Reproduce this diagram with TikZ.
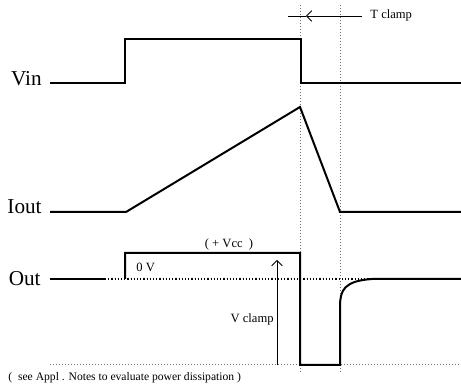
\documentclass[tikz,border=0pt]{standalone}
\usepackage{fontspec}
\setmainfont{Liberation Serif}
\usepackage{xcolor}
\usepackage{tikz}
\usetikzlibrary{arrows.meta,calc}
\definecolor{waveInk}{HTML}{000000}
\definecolor{guideGrey}{HTML}{707070}
\tikzset{
  signal/.style={
    line width=1pt,
    draw=waveInk,
    line join=miter
  },
  guide/.style={
    densely dotted,
    line width=0.5pt,
    draw=guideGrey
  },
  levelDots/.style={
    densely dotted,
    line width=0.6pt,
    draw=waveInk
  },
  measure/.style={
    -{Straight Barb[length=2.6pt,width=5.4pt]},
    line width=0.45pt,
    draw=waveInk
  },
  sigLabel/.style={
    anchor=base east,
    inner sep=0pt,
    font=\fontsize{10.6}{12}\selectfont
  },
  smallLabel/.style={
    inner sep=0pt,
    font=\fontsize{6.3}{7.5}\selectfont
  }
}

\begin{document}
\begin{tikzpicture}[x=0.5pt,y=-0.5pt]
  \useasboundingbox (0,0) rectangle (461,389);
  % timing guides
  \draw[guide] (300,5) -- (300,372);
  \draw[guide] (340,5) -- (340,372);
  \draw[guide] (50,365) -- (461,365);
  \draw[levelDots] (105,279) -- (461,279);
  % signal names
  \node[sigLabel] (vin) at (42,86) {Vin};
  \node[sigLabel] (iout) at (42,214) {Iout};
  \node[sigLabel] (out) at (41,286) {Out};
  % waveforms
  \draw[signal] (50,83) -- (125,83) -- (125,39) -- (301,39) -- (301,83) -- (461,83);
  \draw[signal] (50,212) -- (126,212) -- (300,107) -- (340,212) -- (461,212);
  \draw[signal] (50,279) -- (105,279);
  \draw[signal] (125,279) -- (125,253) -- (300,253) -- (300,365) -- (340,365) -- (340,307)
    .. controls (340,290) and (344,281) .. (372,279) -- (461,279);
  % T clamp
  \node[smallLabel,anchor=base west] (tclamp) at (370,19) {T clamp};
  \coordinate (tclampTail) at (288,16);
  \coordinate (tclampTip) at (306,16);
  \coordinate (tclampStart) at (362,16);
  \draw[line width=0.45pt] (tclampTail) -- (tclampTip);
  \draw[measure] (tclampStart) -- (tclampTip);
  % output levels
  \node[smallLabel,anchor=base] (vcc) at (229,248) {( + Vcc\ \ )};
  \node[smallLabel,anchor=base west] (zerov) at (136,272) {0 V};
  \node[smallLabel,anchor=base east] (vclamp) at (274,323) {V clamp};
  \coordinate (vclampLow) at (277,365);
  \coordinate (vclampHigh) at (277,260);
  \draw[measure] (vclampLow) -- (vclampHigh);
  % note
  \node[smallLabel,anchor=base west,font=\fontsize{5.8}{7}\selectfont] (note) at (8,381) {( \ see Appl . Notes to evaluate power dissipation )};
\end{tikzpicture}
\end{document}
